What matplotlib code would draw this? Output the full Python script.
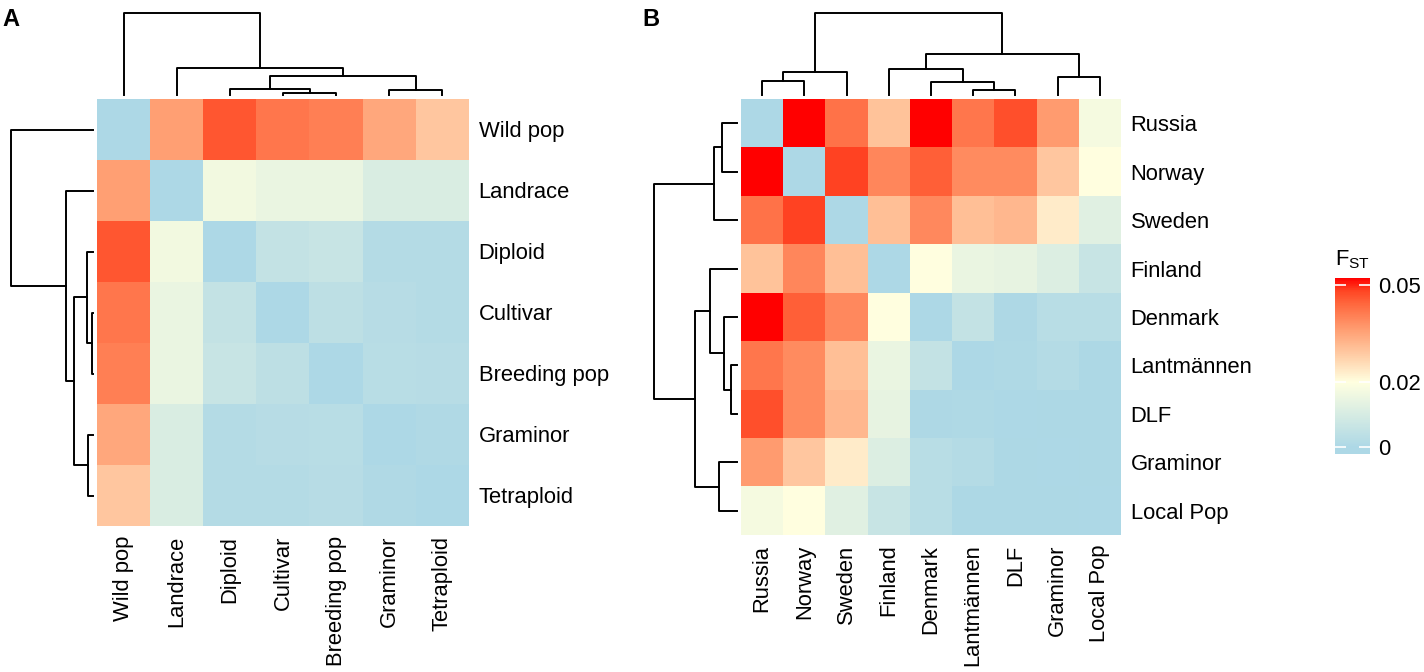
import numpy as np
import matplotlib.pyplot as plt
from matplotlib.colors import LinearSegmentedColormap, Normalize

plt.rcParams['font.family'] = ['Liberation Sans', 'DejaVu Sans']
plt.rcParams['mathtext.fontset'] = 'custom'
plt.rcParams['mathtext.rm'] = 'Liberation Sans'

# panel A: groups
labels_a = ["Wild pop", "Landrace", "Diploid", "Cultivar", "Breeding pop", "Graminor", "Tetraploid"]
fst_a = [
    [0.000, 0.0359, 0.0459, 0.0417, 0.0406, 0.0346, 0.0293],
    [0.0359, 0.000, 0.017, 0.015, 0.015, 0.011, 0.011],
    [0.0459, 0.017, 0.000, 0.0055, 0.0065, 0.002, 0.002],
    [0.0417, 0.015, 0.0055, 0.000, 0.004, 0.0025, 0.002],
    [0.0406, 0.015, 0.0065, 0.004, 0.000, 0.003, 0.0025],
    [0.0346, 0.011, 0.002, 0.0025, 0.003, 0.000, 0.001],
    [0.0293, 0.011, 0.002, 0.002, 0.0025, 0.001, 0.000],
]
# merges: (left, right, height); ints point to earlier merges
tree_a = [("Cultivar", "Breeding pop", 1.7), ("Diploid", 0, 6.0), ("Graminor", "Tetraploid", 5.5),
          (1, 2, 19.0), ("Landrace", 3, 27.0), ("Wild pop", 4, 82.3)]

# panel B: countries / breeders
labels_b = ["Russia", "Norway", "Sweden", "Finland", "Denmark", "Lantmännen", "DLF", "Graminor", "Local Pop"]
fst_b = [
    [0.000, 0.052, 0.0424, 0.0300, 0.052, 0.0417, 0.0468, 0.0365, 0.0178],
    [0.052, 0.000, 0.0480, 0.0394, 0.0450, 0.0389, 0.0389, 0.0293, 0.0200],
    [0.0424, 0.0480, 0.000, 0.0306, 0.0392, 0.0306, 0.0319, 0.0232, 0.0127],
    [0.0300, 0.0394, 0.0306, 0.000, 0.020, 0.015, 0.0144, 0.0115, 0.0066],
    [0.052, 0.0450, 0.0392, 0.020, 0.000, 0.0054, 0.0005, 0.003, 0.003],
    [0.0417, 0.0389, 0.0306, 0.015, 0.0054, 0.000, 0.0006, 0.002, 0.0003],
    [0.0468, 0.0389, 0.0319, 0.0144, 0.0005, 0.0006, 0.000, 0.0003, 0.0002],
    [0.0365, 0.0293, 0.0232, 0.0115, 0.003, 0.002, 0.0003, 0.000, 0.0003],
    [0.0178, 0.0200, 0.0127, 0.0066, 0.003, 0.0003, 0.0002, 0.0003, 0.000],
]
tree_b = [("Russia", "Norway", 14.5), (0, "Sweden", 22.7), ("Lantmännen", "DLF", 5.5),
          ("Denmark", 2, 12.7), ("Finland", 3, 26.5), ("Graminor", "Local Pop", 18.0),
          (4, 5, 41.2), (1, 6, 82.5)]

cbar_ticks = [0, 0.02, 0.05]
vmin, vmax = -0.002, 0.052

# blue -> light yellow -> red, upper half blended through salmon/orange tones
span = vmax - vmin
p0 = (0 - vmin) / span
p1 = (0.02 - vmin) / span
cmap = LinearSegmentedColormap.from_list("fst", [
    (0.0, "#add8e6"), (p0, "#add8e6"), (p1, "#ffffe0"),
    (p1 + 0.25 * (1 - p1), "#ffcfa8"), (p1 + 0.5 * (1 - p1), "#ff9f73"),
    (p1 + 0.75 * (1 - p1), "#ff683e"), (p1 + 0.875 * (1 - p1), "#ff4624"),
    (1.0, "#ff0000")])
norm = Normalize(vmin, vmax)

W, H = 1424, 672
fig = plt.figure(figsize=(W / 100, H / 100), dpi=100)


def box(x0, y0, x1, y1):
    return [x0 / W, 1 - y1 / H, (x1 - x0) / W, (y1 - y0) / H]


def draw_tree(ax, labels, tree, vertical):
    pos = {lab: i for i, lab in enumerate(labels)}
    hgt = {lab: 0.0 for lab in labels}
    for k, (a, b, h) in enumerate(tree):
        xa, xb = pos[a], pos[b]
        ha, hb = hgt[a], hgt[b]
        xs = [xa, xa, xb, xb]
        ys = [ha, h, h, hb]
        if vertical:
            ax.plot(xs, ys, color='black', lw=1.4, clip_on=False)
        else:
            ax.plot(ys, xs, color='black', lw=1.4, clip_on=False)
        pos[k] = (xa + xb) / 2
        hgt[k] = h
    n = len(labels)
    top = max(t[2] for t in tree)
    if vertical:
        ax.set_xlim(-0.5, n - 0.5)
        ax.set_ylim(0, top)
    else:
        ax.set_ylim(n - 0.5, -0.5)
        ax.set_xlim(top, 0)
    ax.axis('off')


def panel(labels, data, tree, hm, coltree, rowtree, lab_pad):
    n = len(labels)
    ax = fig.add_axes(box(*hm))
    ax.imshow(np.array(data), cmap=cmap, norm=norm, aspect='auto', interpolation='nearest')
    ax.set_xticks(range(n))
    ax.set_xticklabels(labels, rotation=90, fontsize=15.8)
    ax.set_yticks(range(n))
    ax.set_yticklabels(labels, fontsize=15.8)
    ax.yaxis.tick_right()
    ax.tick_params(axis='y', length=0, pad=lab_pad)
    ax.tick_params(axis='x', length=0, pad=lab_pad)
    for s in ax.spines.values():
        s.set_visible(False)
    draw_tree(fig.add_axes(box(*coltree)), labels, tree, True)
    draw_tree(fig.add_axes(box(*rowtree)), labels, tree, False)
    return ax


ax_a = panel(labels_a, fst_a, tree_a, (97, 99, 469, 526), (97, 12.7, 469, 95), (11, 99, 93.3, 526), 7)
ax_b = panel(labels_b, fst_b, tree_b, (741, 99, 1121, 535), (741, 12.7, 1121, 95), (654, 99, 736.7, 535), 7)

fig.text(2 / W, 1 - 26 / H, "A", fontsize=17, fontweight='bold')
fig.text(642 / W, 1 - 26 / H, "B", fontsize=17, fontweight='bold')

# colour key
cax = fig.add_axes(box(1335, 278, 1370, 454))
cb = fig.colorbar(plt.cm.ScalarMappable(norm=norm, cmap=cmap), cax=cax, ticks=cbar_ticks)
cb.outline.set_visible(False)
cb.ax.set_yticklabels(["0", "0.02", "0.05"])
cax.yaxis.set_ticks_position('both')
cax.tick_params(direction='in', color='white', length=8, width=1.2, labelsize=15.8, pad=6,
                labelleft=False, labelright=True)
fig.text(1335 / W, 1 - 265 / H, r"$\mathrm{F}_{\mathrm{ST}}$", fontsize=15.8)

fig.savefig("out.png", dpi=100)
